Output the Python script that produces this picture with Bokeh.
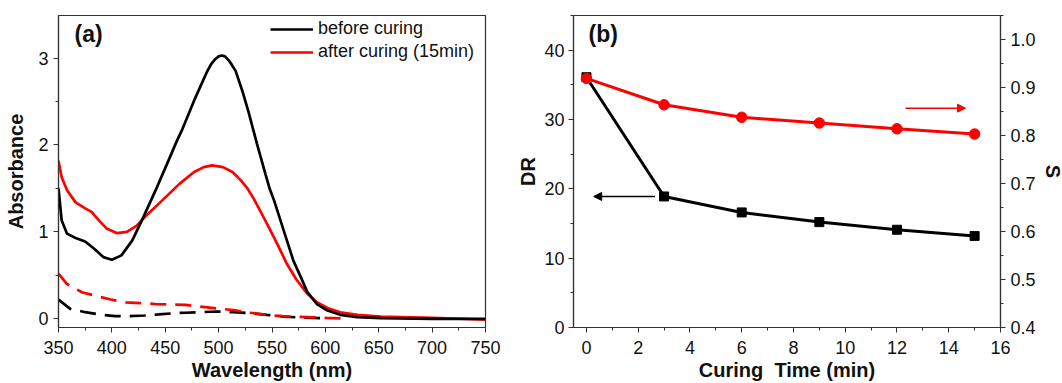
from bokeh.plotting import figure
from bokeh.layouts import row
from bokeh.models import (Range1d, LinearAxis, SingleIntervalTicker, FixedTicker, Legend,
                          LegendItem, Label, Arrow, NormalHead, NumeralTickFormatter)
from bokeh.embed import file_html
from bokeh.resources import INLINE

# ---------------- data: panel (a) ----------------
wl_before = [350, 353, 358, 366, 375, 384, 392, 400, 409, 419, 428, 441, 453, 461, 466, 477,
             489, 493, 497, 500, 503, 506, 509, 512, 516, 522, 528, 536, 544, 548, 552, 558,
             564, 570, 577, 583, 592, 602, 614, 630, 652, 700, 750]
abs_before = [1.50, 1.13, 0.98, 0.93, 0.89, 0.80, 0.71, 0.68, 0.73, 0.90, 1.13, 1.48, 1.82, 2.05, 2.18, 2.51,
              2.84, 2.93, 2.99, 3.02, 3.03, 3.02, 2.98, 2.93, 2.85, 2.63, 2.38, 2.01, 1.66, 1.49, 1.36, 1.13,
              0.90, 0.67, 0.48, 0.31, 0.17, 0.095, 0.046, 0.018, 0.007, 0.0, 0.0]

wl_after = [350, 353, 358, 366, 375, 381, 388, 395, 405, 414, 423, 434, 447, 463, 477, 486,
            494, 504, 513, 521, 527, 533, 545, 555, 564, 573, 583, 592, 602, 614, 630, 652, 700, 750]
abs_after = [1.82, 1.63, 1.48, 1.34, 1.27, 1.23, 1.13, 1.04, 0.985, 1.0, 1.07, 1.21, 1.36, 1.55, 1.69, 1.745,
             1.765, 1.745, 1.69, 1.59, 1.50, 1.38, 1.10, 0.86, 0.63, 0.45, 0.29, 0.19, 0.125, 0.075, 0.045,
             0.026, 0.012, -0.01]

wl_base_before = [350, 361, 375, 388, 403, 416, 431, 444, 459, 469, 483, 498, 514, 530, 545, 561, 577, 595]
abs_base_before = [0.22, 0.115, 0.076, 0.05, 0.03, 0.03, 0.038, 0.05, 0.065, 0.07, 0.076, 0.084, 0.076,
                   0.065, 0.045, 0.025, 0.015, 0.008]

wl_base_after = [350, 358, 372, 386, 399, 413, 427, 441, 455, 469, 483, 498, 514, 530, 545, 560, 583, 600, 615]
abs_base_after = [0.52, 0.40, 0.306, 0.26, 0.222, 0.19, 0.18, 0.17, 0.165, 0.16, 0.14, 0.12, 0.10, 0.07,
                  0.045, 0.03, 0.02, 0.01, 0.005]

# ---------------- data: panel (b) ----------------
cure_time = [0, 3, 6, 9, 12, 15]
dr_values = [36.1, 18.9, 16.6, 15.2, 14.1, 13.2]
s_values = [0.919, 0.864, 0.838, 0.826, 0.814, 0.803]

s_ticks = [0.4, 0.5, 0.6, 0.7, 0.8, 0.9, 1.0]
s_minor = [0.45, 0.55, 0.65, 0.75, 0.85, 0.95, 1.05]

FONT = "Liberation Sans"
AX = "#333333"
TXT = "#111111"


def style_axis(ax, tick_standoff, label_standoff):
    ax.axis_line_color = AX
    ax.axis_line_width = 1.2
    ax.major_tick_line_color = AX
    ax.minor_tick_line_color = AX
    ax.major_tick_in = 0
    ax.major_tick_out = 5
    ax.minor_tick_in = 0
    ax.minor_tick_out = 3
    ax.major_label_text_font = FONT
    ax.major_label_text_font_size = "18px"
    ax.major_label_text_color = TXT
    ax.major_label_standoff = tick_standoff
    ax.axis_label_text_font = FONT
    ax.axis_label_text_font_style = "bold"
    ax.axis_label_text_font_size = "20px"
    ax.axis_label_text_color = TXT
    ax.axis_label_standoff = label_standoff


def base_fig(xr, yr, left, right):
    p = figure(frame_width=427, frame_height=312, x_range=xr, y_range=yr,
               output_backend="svg", toolbar_location=None,
               min_border_left=left, min_border_right=right, min_border_top=15, min_border_bottom=52)
    p.grid.visible = False
    p.outline_line_color = AX
    p.outline_line_width = 1.2
    p.background_fill_color = "white"
    p.border_fill_color = "white"
    return p


# ---------------- panel (a) ----------------
pa = base_fig(Range1d(350, 750), Range1d(-0.1, 3.49), 58, 29)
pa.xaxis.ticker = SingleIntervalTicker(interval=50, num_minor_ticks=2)
pa.yaxis.ticker = SingleIntervalTicker(interval=1, num_minor_ticks=2)
pa.xaxis.axis_label = "Wavelength (nm)"
pa.yaxis.axis_label = "Absorbance"
style_axis(pa.xaxis[0], 8, 2)
style_axis(pa.yaxis[0], 5, 8)

pa.line(wl_base_before, abs_base_before, line_color="black", line_width=2.7, line_dash="16 9")
pa.line(wl_base_after, abs_base_after, line_color="#ff0000", line_width=2.7, line_dash="16 9")
r_after = pa.line(wl_after, abs_after, line_color="#ff0000", line_width=2.7)
r_before = pa.line(wl_before, abs_before, line_color="black", line_width=2.7)

leg = Legend(items=[LegendItem(label="before curing", renderers=[r_before]),
                    LegendItem(label="after curing (15min)", renderers=[r_after])],
             location=(212, 265), border_line_alpha=0, background_fill_alpha=0,
             padding=0, margin=0, spacing=2, glyph_width=43, glyph_height=20,
             label_height=20, label_standoff=5,
             label_text_font=FONT, label_text_font_size="18px", label_text_color=TXT)
pa.add_layout(leg)

pa.add_layout(Label(x=16, y=294, x_units="screen", y_units="screen", text="(a)",
                    text_font=FONT, text_font_style="bold", text_font_size="23px",
                    text_color=TXT, text_baseline="middle"))

# ---------------- panel (b) ----------------
pb = base_fig(Range1d(-0.5, 16), Range1d(0, 45), 57, 61)
pb.extra_y_ranges = {"s": Range1d(0.4, 1.05)}
pb.xaxis.ticker = SingleIntervalTicker(interval=2, num_minor_ticks=2)
pb.yaxis.ticker = SingleIntervalTicker(interval=10, num_minor_ticks=2)
pb.xaxis.axis_label = "Curing\u00a0 Time (min)"
pb.yaxis.axis_label = "DR"
style_axis(pb.xaxis[0], 8, 2)
style_axis(pb.yaxis[0], 4, 2)

ax_s = LinearAxis(y_range_name="s", axis_label="S",
                  ticker=FixedTicker(ticks=s_ticks, minor_ticks=s_minor),
                  formatter=NumeralTickFormatter(format="0.0"))
style_axis(ax_s, 5, 3)
pb.add_layout(ax_s, "right")

pb.line(cure_time, dr_values, line_color="black", line_width=3)
pb.scatter(cure_time, dr_values, marker="square", size=9, fill_color="black", line_color="black")
pb.line(cure_time, s_values, line_color="#ff0000", line_width=3, y_range_name="s")
pb.scatter(cure_time, s_values, marker="circle", size=10.5, fill_color="#ff0000",
           line_color="#ff0000", y_range_name="s")

pb.add_layout(Arrow(end=NormalHead(size=8, fill_color="black", line_color="black"),
                    x_start=2.65, y_start=18.9, x_end=0.28, y_end=18.9,
                    line_color="black", line_width=1.5))
pb.add_layout(Arrow(end=NormalHead(size=8, fill_color="#ff0000", line_color="#ff0000"),
                    x_start=12.33, y_start=0.857, x_end=14.65, y_end=0.857,
                    line_color="#ff0000", line_width=1.5, y_range_name="s"))

pb.add_layout(Label(x=15, y=294, x_units="screen", y_units="screen", text="(b)",
                    text_font=FONT, text_font_style="bold", text_font_size="23px",
                    text_color=TXT, text_baseline="middle"))

layout = row(pa, pb)
open("out.html", "w").write(file_html(layout, INLINE))
